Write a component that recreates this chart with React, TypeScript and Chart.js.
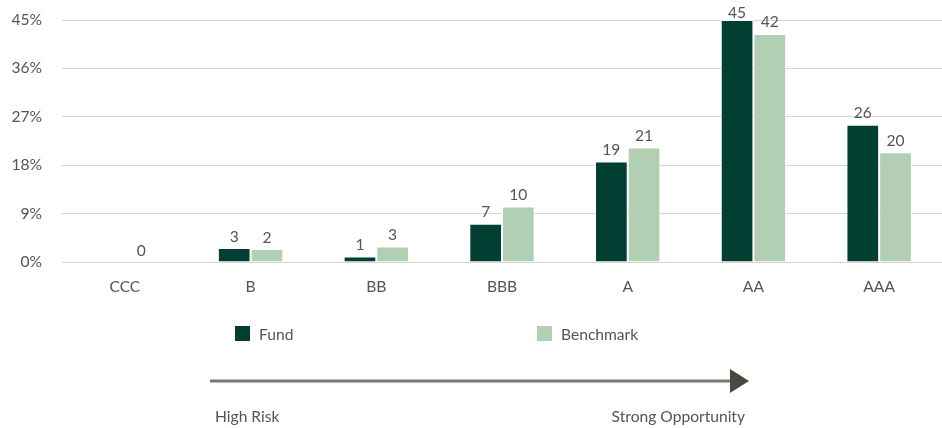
import React, { useEffect, useRef } from 'react';
import { Chart, registerables } from 'chart.js';

Chart.register(...registerables);

const categories = ['CCC', 'B', 'BB', 'BBB', 'A', 'AA', 'AAA'];
const fundValues: (number | null)[] = [null, 2.6, 1.0, 7.1, 18.7, 45.0, 25.5];
const benchmarkValues: (number | null)[] = [0, 2.4, 2.9, 10.3, 21.3, 42.4, 20.4];
const yTickValues = [0, 9, 18, 27, 36, 45];
const seriesNames = ['Fund', 'Benchmark'];
const scaleEndLabels = ['High Risk', 'Strong Opportunity'];

const FUND_COLOR = '#023f33';
const BENCH_COLOR = '#b3cfb3';
const TEXT_COLOR = '#555555';
const FONT = 'Lato, "Open Sans", sans-serif';
const FS = 15.6;

const overlayPlugin = {
  id: 'overlay',
  afterDatasetsDraw(chart: any) {
    const ctx = chart.ctx;
    ctx.save();
    ctx.font = `${FS}px ${FONT}`;
    ctx.fillStyle = TEXT_COLOR;
    ctx.textAlign = 'center';
    ctx.textBaseline = 'alphabetic';
    chart.data.datasets.forEach((ds: any, di: number) => {
      const meta = chart.getDatasetMeta(di);
      meta.data.forEach((el: any, i: number) => {
        const v = ds.data[i];
        if (v === null || v === undefined) return;
        const y = Math.max(el.y - 6.5, 18);
        ctx.fillText(String(Math.round(v)), el.x, y);
      });
    });
    ctx.restore();
  },
  afterDraw(chart: any) {
    const ctx = chart.ctx;
    ctx.save();
    const legendItems = [
      { name: seriesNames[0], color: FUND_COLOR, x: 235 },
      { name: seriesNames[1], color: BENCH_COLOR, x: 537 },
    ];
    ctx.font = `${FS}px ${FONT}`;
    ctx.textBaseline = 'middle';
    ctx.textAlign = 'left';
    legendItems.forEach((it) => {
      ctx.fillStyle = it.color;
      ctx.fillRect(it.x, 326, 15, 15);
      ctx.fillStyle = TEXT_COLOR;
      ctx.fillText(it.name, it.x + 24, 335);
    });
    ctx.strokeStyle = '#767a70';
    ctx.lineWidth = 3;
    ctx.beginPath();
    ctx.moveTo(210, 381);
    ctx.lineTo(732, 381);
    ctx.stroke();
    ctx.fillStyle = '#464a40';
    ctx.beginPath();
    ctx.moveTo(730, 369);
    ctx.lineTo(749, 381);
    ctx.lineTo(730, 393);
    ctx.closePath();
    ctx.fill();
    ctx.fillStyle = TEXT_COLOR;
    ctx.textAlign = 'left';
    ctx.fillText(scaleEndLabels[0], 215, 417);
    ctx.textAlign = 'right';
    ctx.fillText(scaleEndLabels[1], 745, 417);
    ctx.restore();
  },
};

export default function App() {
  const canvasRef = useRef<HTMLCanvasElement | null>(null);

  useEffect(() => {
    document.body.style.margin = '0';
    const canvas = canvasRef.current;
    if (!canvas) return;
    const chart = new Chart(canvas, {
      type: 'bar',
      data: {
        labels: categories,
        datasets: [
          {
            label: seriesNames[0],
            data: fundValues,
            backgroundColor: FUND_COLOR,
            borderColor: '#ffffff',
            borderWidth: 1,
            categoryPercentage: 0.52,
            barPercentage: 1,
          },
          {
            label: seriesNames[1],
            data: benchmarkValues,
            backgroundColor: BENCH_COLOR,
            borderColor: '#ffffff',
            borderWidth: 1,
            categoryPercentage: 0.52,
            barPercentage: 1,
          },
        ],
      },
      options: {
        responsive: false,
        animation: false,
        devicePixelRatio: 1,
        layout: { padding: { top: 20, right: 0, left: 0, bottom: 0 } },
        plugins: {
          legend: { display: false },
          tooltip: { enabled: false },
        },
        scales: {
          x: {
            grid: { display: false, drawTicks: false },
            border: { display: false },
            ticks: {
              color: TEXT_COLOR,
              font: { family: FONT, size: FS },
              padding: 16,
            },
            afterFit(scale: any) {
              scale.height = 166;
            },
          },
          y: {
            min: 0,
            max: 45,
            afterBuildTicks(scale: any) {
              scale.ticks = yTickValues.map((v) => ({ value: v }));
            },
            grid: { color: '#d4d4d4', lineWidth: 1, drawTicks: false },
            border: { display: false },
            ticks: {
              color: TEXT_COLOR,
              font: { family: FONT, size: FS },
              padding: 20,
              callback: (v: any) => `${v}%`,
            },
            afterFit(scale: any) {
              scale.width = 62;
              scale.paddingTop = 10;
              scale.paddingBottom = 0;
            },
          },
        },
      },
      plugins: [overlayPlugin],
    });
    return () => chart.destroy();
  }, []);

  return (
    <div style={{ width: 942, height: 428 }}>
      <canvas ref={canvasRef} width={942} height={428} style={{ display: 'block' }} />
    </div>
  );
}
